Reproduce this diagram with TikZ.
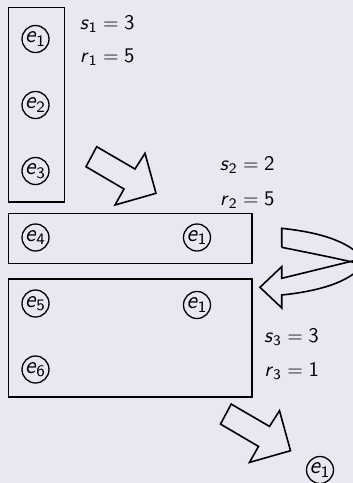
\documentclass[tikz,border=0pt]{standalone}
\usepackage{fontspec}
\definecolor{bgc}{RGB}{232,232,243}
\newcommand{\ev}[1]{\textit{e}$_{\mathsf{#1}}$}
\newcommand{\eqv}[3]{\textit{#1}$_{\mathsf{#2}}=\mathsf{#3}$}
\begin{document}
\begin{tikzpicture}[x=0.5pt,y=-0.5pt,
  every node/.style={font=\sffamily\fontsize{10.4}{12}\selectfont},
  enode/.style={circle,draw,line width=0.65pt,inner sep=0pt,minimum size=13.5pt,font=\sffamily\fontsize{12}{13}\selectfont},
  boxline/.style={draw,line width=0.8pt},
  arr/.style={draw,line width=0.8pt,line join=miter},
  lbl/.style={inner sep=0pt}]
\fill[bgc] (0,0) rectangle (353,483);
\useasboundingbox (0,0) rectangle (353,483);
\clip (0,0) rectangle (353,483);
% box 1
\draw[boxline] (8.3,7.3) rectangle (64.3,201.7);
\node[enode] (a1) at (35.5,39) {\ev{1}};
\node[enode] (a2) at (35.5,105) {\ev{2}};
\node[enode] (a3) at (35.5,171) {\ev{3}};
\node[lbl,anchor=base east] (s1) at (135,29) {\eqv{s}{1}{3}};
\node[lbl,anchor=base east] (r1) at (135,62) {\eqv{r}{1}{5}};
% arrow 1
\draw[arr] (96.7,146.7) -- (135,169) -- (145,153.3) -- (156,193.3) -- (115,205) -- (124,189) -- (86,166.7) -- cycle;
\node[lbl,anchor=base east] (s2) at (275,170) {\eqv{s}{2}{2}};
\node[lbl,anchor=base east] (r2) at (275,205) {\eqv{r}{2}{5}};
% box 2
\draw[boxline] (8.3,213.3) rectangle (251.7,263.3);
\node[enode] (b4) at (35.5,237.5) {\ev{4}};
\node[enode] (b1) at (197,237.5) {\ev{1}};
% box 3
\draw[boxline] (8.3,279) rectangle (251.7,396.7);
\node[enode] (c5) at (35.5,303.5) {\ev{5}};
\node[enode] (c1) at (197,305) {\ev{1}};
\node[enode] (c6) at (35.5,369.5) {\ev{6}};
\node[lbl,anchor=base east] (s3) at (319.3,342.7) {\eqv{s}{3}{3}};
\node[lbl,anchor=base east] (r3) at (319.3,376) {\eqv{r}{3}{1}};
% U-turn arrow
\draw[arr] (281.7,247.3) -- (281.7,228.3)
  .. controls (325,233) and (352,243) .. (366,262)
  .. controls (352,280.4) and (325,290.4) .. (281.7,295)
  -- (281.7,307.9) -- (260,287.3) -- (281.7,266.7) -- (281.7,278.3)
  .. controls (320,269) and (340,264) .. (365,258);
\draw[arr] (281.7,247.3) .. controls (320,255) and (340,259) .. (365,265);
% arrow 3
\draw[arr] (231.2,404.1) -- (269.5,426.4) -- (279.5,410.7) -- (290.5,450.7) -- (249.5,462.4) -- (258.5,446.4) -- (220.5,424.1) -- cycle;
\node[enode] (f1) at (320,470) {\ev{1}};
\end{tikzpicture}
\end{document}
